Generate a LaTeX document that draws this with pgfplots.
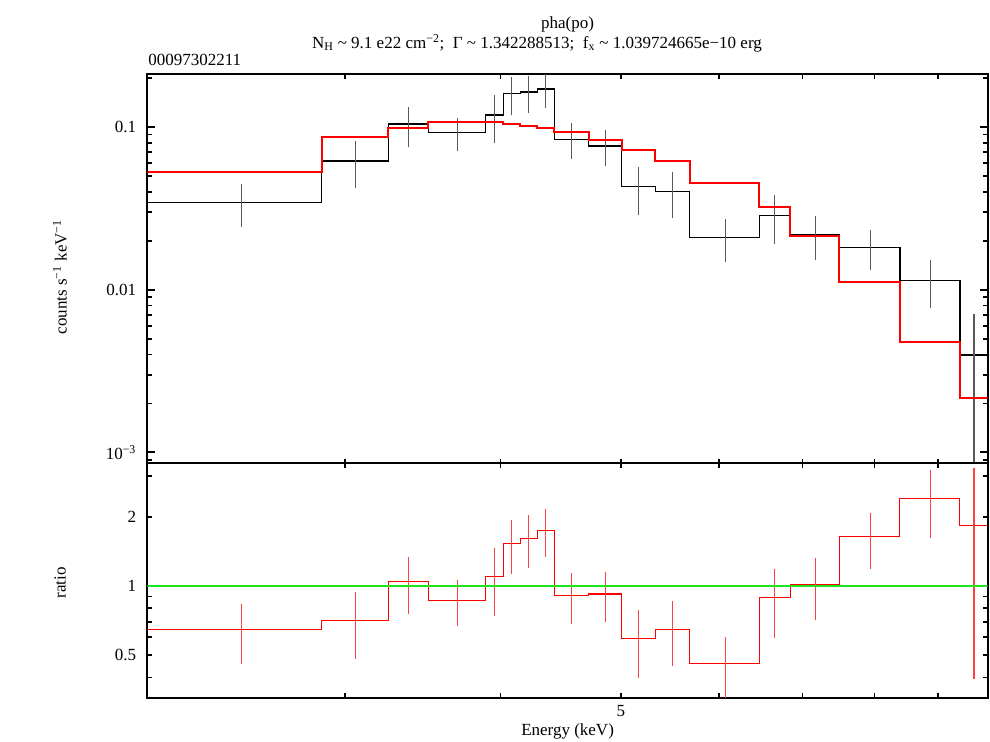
\documentclass[border=0pt]{standalone}
\usepackage{fontspec}
\setmainfont{Liberation Serif}
\usepackage{pgfplots}
\usepackage{pgfplotstable}
\pgfplotsset{compat=1.18}
\definecolor{xgreen}{RGB}{30,230,30}

\pgfplotstableread{
x y
2.079 0.03425
2.871 0.0618
3.248 0.1043
3.498 0.0928
3.888 0.1185
4.020 0.1602
4.149 0.1641
4.281 0.1713
4.418 0.0840
4.711 0.0764
5.006 0.04295
5.328 0.04025
5.679 0.0210
6.461 0.0285
6.843 0.02184
7.494 0.01822
8.386 0.01142
9.373 0.00397
9.867 0.00397
}\datastep

\pgfplotstableread{
x y
2.079 0.0531
2.871 0.0872
3.248 0.0990
3.498 0.1069
3.888 0.1078
4.020 0.1048
4.149 0.1019
4.281 0.0982
4.418 0.0928
4.711 0.0829
5.006 0.0725
5.328 0.0621
5.679 0.0455
6.461 0.0321
6.843 0.02147
7.494 0.01115
8.386 0.00475
9.373 0.00217
9.867 0.00217
}\modelstep

% data error bars: low and high end of each bar
\pgfplotstableread{
x y
2.475 0.02439
2.475 0.04444
nan nan
3.0595 0.04199
3.0595 0.0820
nan nan
3.373 0.0750
3.373 0.1327
nan nan
3.693 0.0715
3.693 0.1136
nan nan
3.954 0.0797
3.954 0.1573
nan nan
4.0845 0.1180
4.0845 0.2020
nan nan
4.215 0.1214
4.215 0.2058
nan nan
4.3495 0.1302
4.3495 0.212
nan nan
4.5645 0.0633
4.5645 0.1054
nan nan
4.8585 0.0576
4.8585 0.0958
nan nan
5.167 0.02877
5.167 0.0568
nan nan
5.5035 0.02759
5.5035 0.0531
nan nan
6.07 0.01481
6.07 0.02732
nan nan
6.652 0.0190
6.652 0.0380
nan nan
7.1685 0.01533
7.1685 0.02832
nan nan
7.94 0.01322
7.94 0.02318
nan nan
8.8795 0.00769
8.8795 0.01516
nan nan
9.62 0.00086
9.62 0.00709
}\dataerr

\pgfplotstableread{
x y
2.079 0.646
2.871 0.709
3.248 1.05
3.498 0.868
3.888 1.10
4.020 1.53
4.149 1.615
4.281 1.745
4.418 0.908
4.711 0.923
5.006 0.592
5.328 0.65
5.679 0.462
6.461 0.89
6.843 1.017
7.494 1.635
8.386 2.40
9.373 1.832
9.867 1.832
}\ratiostep

% ratio error bars: low and high end of each bar
\pgfplotstableread{
x y
2.475 0.459
2.475 0.836
nan nan
3.0595 0.482
3.0595 0.938
nan nan
3.373 0.758
3.373 1.337
nan nan
3.693 0.671
3.693 1.064
nan nan
3.954 0.741
3.954 1.46
nan nan
4.0845 1.128
4.0845 1.93
nan nan
4.215 1.195
4.215 2.025
nan nan
4.3495 1.33
4.3495 2.16
nan nan
4.5645 0.684
4.5645 1.135
nan nan
4.8585 0.696
4.8585 1.155
nan nan
5.167 0.399
5.167 0.783
nan nan
5.5035 0.447
5.5035 0.857
nan nan
6.07 0.326
6.07 0.600
nan nan
6.652 0.594
6.652 1.186
nan nan
7.1685 0.714
7.1685 1.319
nan nan
7.94 1.187
7.94 2.08
nan nan
8.8795 1.62
8.8795 3.18
nan nan
9.62 0.396
9.62 3.27
}\ratioerr

\begin{document}
\begin{tikzpicture}[font=\fontsize{12.75}{15}\selectfont]
\path[use as bounding box] (-110.6pt,-33.2pt) rectangle (631.9pt,523.3pt);
\pgfplotsset{
  every axis/.append style={
    scale only axis,
    width=630.15pt,
    xmode=log, ymode=log,
    xmin=2.079, xmax=9.867,
    tick align=inside,
    unbounded coords=jump,
    axis line style={line width=1.5pt},
    every tick/.style={line width=1.3pt, black},
    xtick={3,4,5,6,7,8,9},
    minor xtick={},
    xtick style={/pgfplots/major tick length=3.4pt},
    yticklabel style={xshift=-5pt},
    xticklabel style={yshift=-2.5pt},
    font=\fontsize{12.75}{15}\selectfont,
  }
}
% top panel
\begin{axis}[
  at={(0,176pt)}, anchor=south west,
  height=291.75pt,
  ymin=8.59e-4, ymax=0.2117,
  ytick={0.001,0.01,0.1},
  yticklabels={10\textsuperscript{−3},0.01,0.1},
  minor ytick={0.0009,0.002,0.003,0.004,0.005,0.006,0.007,0.008,0.009,0.02,0.03,0.04,0.05,0.06,0.07,0.08,0.09,0.2},
  major tick length=6pt,
  minor tick length=3.4pt,
  xticklabels={},
]
\addplot[const plot mark left, black, line width=0.9pt, mark=none] table[x=x,y=y]{\datastep};
\addplot[black!65, line width=0.8pt, mark=none] table[x=x,y=y]{\dataerr};
\addplot[const plot mark left, red, line width=1.6pt, mark=none] table[x=x,y=y]{\modelstep};
\end{axis}
% bottom panel
\begin{axis}[
  at={(0,0)}, anchor=south west,
  height=176pt,
  ymin=0.327, ymax=3.42,
  ytick={0.5,1,2},
  yticklabels={0.5,1,2},
  minor ytick={0.4,0.6,0.7,0.8,0.9,3},
  major tick length=3.4pt,
  minor tick length=3.4pt,
  xticklabels={{},{},5,{},{},{},{}},
]
\addplot[const plot mark left, red, line width=0.8pt, mark=none] table[x=x,y=y]{\ratiostep};
\addplot[red!75, line width=0.8pt, mark=none] table[x=x,y=y]{\ratioerr};
\addplot[xgreen, line width=1.8pt, mark=none] coordinates {(2.079,1) (9.867,1)};
\end{axis}
\node at (315.1pt,505.3pt) {pha(po)};
\node at (292.1pt,491pt) {N\textsubscript{H} \textasciitilde{} 9.1 e22 cm\textsuperscript{−2};\hspace{0.5em}Γ \textasciitilde{} 1.342288513;\hspace{0.5em}f\textsubscript{x} \textasciitilde{} 1.039724665e−10 erg};
\node[anchor=west, inner sep=0pt] at (0.4pt,478.3pt) {00097302211};
\node[rotate=90] at (-65.6pt,315.5pt) {counts s\textsuperscript{−1} keV\textsuperscript{−1}};
\node[rotate=90] at (-65.6pt,86pt) {ratio};
\node at (315.1pt,-25pt) {Energy (keV)};
\end{tikzpicture}
\end{document}
